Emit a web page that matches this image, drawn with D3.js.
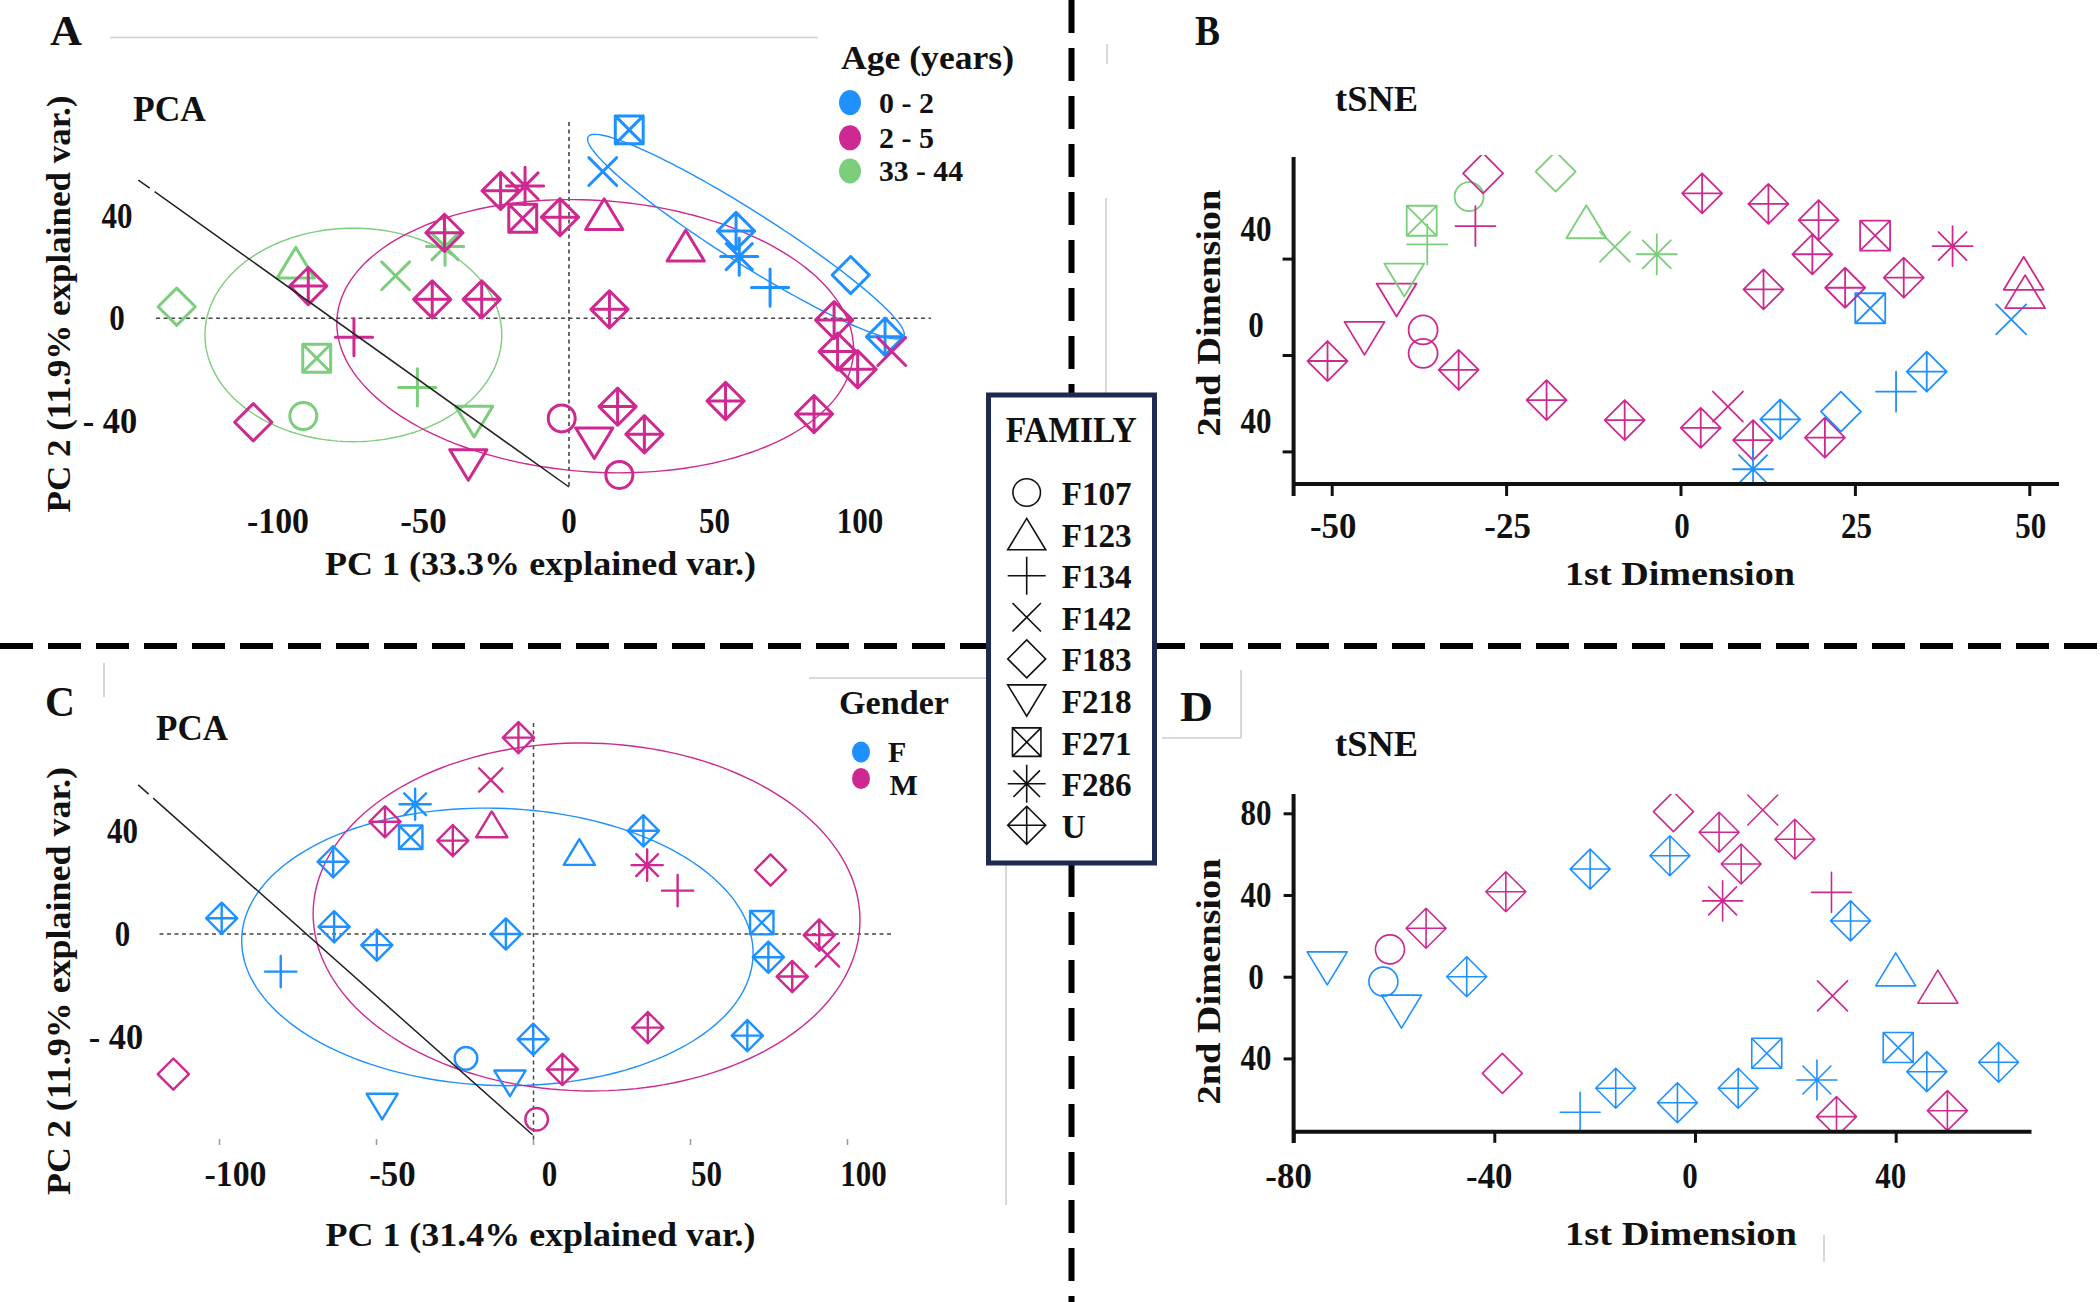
<!DOCTYPE html>
<html><head><meta charset="utf-8">
<script src="https://cdn.jsdelivr.net/npm/d3@7"></script>
<style>
body{margin:0;background:#fff}
svg{display:block}
text{font-family:"Liberation Serif","Times New Roman",serif;font-weight:bold;fill:#111}
</style>
</head><body>
<svg id="c" width="2100" height="1302"></svg>
<script>
// ---------------- DATA ----------------
const families = ["F107","F123","F134","F142","F183","F218","F271","F286","U"];
const ageGroups = ["0 - 2","2 - 5","33 - 44"];
const genders = ["F","M"];

// Panel A: PCA coloured by age  [PC1, PC2, family, age]
const pcaAgePoints = [
  [-134.8,4.5,"F183","33 - 44"],[-93.9,21.7,"F123","33 - 44"],[-89.6,12.6,"U","2 - 5"],
  [-73.9,-7.4,"F134","2 - 5"],[-86.7,-15.6,"F271","33 - 44"],[-59.6,16.6,"F142","33 - 44"],
  [-42.6,28.0,"F286","33 - 44"],[-42.8,33.4,"U","2 - 5"],[-47.0,7.4,"U","2 - 5"],
  [-30.0,7.4,"U","2 - 5"],[-52.1,-27.0,"F134","33 - 44"],[-91.3,-38.2,"F107","33 - 44"],
  [-108.5,-40.6,"F183","2 - 5"],[-32.6,-40.4,"F218","33 - 44"],[-34.6,-57.3,"F218","2 - 5"],
  [-23.5,49.8,"U","2 - 5"],[-15.1,51.7,"F286","2 - 5"],[-15.9,39.1,"F271","2 - 5"],
  [-3.1,39.5,"U","2 - 5"],[12.1,40.7,"F123","2 - 5"],[20.7,73.6,"F271","0 - 2"],
  [11.6,57.3,"F142","0 - 2"],[40.1,28.4,"F123","2 - 5"],[57.4,34.1,"U","0 - 2"],
  [58.5,24.1,"F286","0 - 2"],[69.1,12.0,"F134","0 - 2"],[96.8,16.9,"F183","0 - 2"],
  [91.1,-0.7,"U","2 - 5"],[108.6,-7.2,"U","0 - 2"],[110.9,-13.0,"F142","2 - 5"],
  [92.3,-13.0,"U","2 - 5"],[99.2,-19.9,"U","2 - 5"],[13.9,3.5,"U","2 - 5"],
  [53.8,-32.3,"U","2 - 5"],[84.2,-37.4,"U","2 - 5"],[16.7,-34.5,"U","2 - 5"],
  [25.9,-45.3,"U","2 - 5"],[-2.5,-39.1,"F107","2 - 5"],[8.7,-48.8,"F218","2 - 5"],
  [17.3,-61.2,"F107","2 - 5"]
];
// [group, centre x, centre y, semi-axis a, semi-axis b, angle(deg)]
const pcaAgeEllipses = [
  ["33 - 44",-74.1,-6.5,51,41.7,0],
  ["2 - 5",9,-7,89,53,-5],
  ["0 - 2",60.8,31.9,66.8,9.8,-35.9]
];
const pcaAgeGuide = [[-148,54],[0,-65.9]];

// Panel B: tSNE coloured by age [dim1, dim2, family, age]
const tsneAgePoints = [
  [-50.6,-2.5,"U","2 - 5"],[-45.3,6.9,"F218","2 - 5"],[-40.7,22.8,"F218","2 - 5"],
  [-39.6,31.1,"F218","33 - 44"],[-37.1,55.7,"F271","33 - 44"],[-36.3,45.9,"F134","33 - 44"],
  [-36.9,10.4,"F107","2 - 5"],[-36.9,0.7,"F107","2 - 5"],[-31.8,-6.2,"U","2 - 5"],
  [-30.3,65.7,"F107","33 - 44"],[-29.4,53.5,"F134","2 - 5"],[-28.3,75.4,"F183","2 - 5"],
  [-17.9,76.1,"F183","33 - 44"],[-13.5,55.3,"F123","33 - 44"],[-9.4,44.9,"F142","33 - 44"],
  [-3.4,41.8,"F286","33 - 44"],[-19.2,-18.7,"U","2 - 5"],[-8.0,-27.0,"U","2 - 5"],
  [2.9,-30.2,"U","2 - 5"],[6.8,-21.4,"F142","2 - 5"],[10.4,-35.3,"U","2 - 5"],
  [10.4,-47.4,"F286","0 - 2"],[14.3,-26.7,"U","0 - 2"],[20.7,-34.3,"U","2 - 5"],
  [23.0,-23.5,"F183","0 - 2"],[30.9,-15.2,"F134","0 - 2"],[35.3,-6.9,"U","0 - 2"],
  [47.4,14.8,"F142","0 - 2"],[49.2,33.9,"F123","2 - 5"],[49.4,26.3,"F123","2 - 5"],
  [27.2,19.4,"F271","0 - 2"],[39.0,45.2,"F286","2 - 5"],[27.9,49.5,"F271","2 - 5"],
  [32.0,32.1,"U","2 - 5"],[23.6,27.9,"U","2 - 5"],[18.9,41.8,"U","2 - 5"],
  [19.8,56.0,"U","2 - 5"],[12.6,62.7,"U","2 - 5"],[3.1,67.1,"U","2 - 5"],
  [11.9,27.2,"U","2 - 5"]
];

// Panel C: PCA coloured by gender [PC1, PC2, family, gender]
const pcaGenderPoints = [
  [-4.8,76.1,"U","M"],[-13.6,59.7,"F142","M"],[-37.7,50.3,"F286","F"],[-47.3,43.5,"U","M"],
  [-39.1,37.5,"F271","F"],[-25.7,36.2,"U","M"],[-13.3,42.5,"F123","M"],[-63.8,28.0,"U","F"],
  [-99.3,6.1,"U","F"],[-63.5,2.8,"U","F"],[-49.9,-4.3,"U","F"],[-80.5,-14.6,"F134","F"],
  [-8.8,0,"U","F"],[-0.1,-40.8,"U","F"],[-21.5,-48.2,"F107","F"],[-7.5,-57.9,"F218","F"],
  [-48.2,-66.9,"F218","F"],[-114.7,-54.3,"F183","M"],[1.0,-71.8,"F107","M"],[9.2,-52.5,"U","M"],
  [14.6,31.8,"F123","F"],[35.0,40.0,"U","F"],[36.2,26.7,"F286","M"],[45.9,16.8,"F134","M"],
  [36.4,-36.3,"U","M"],[68.1,-39.4,"U","F"],[75.5,24.8,"F183","M"],[72.7,4.4,"F271","F"],
  [74.8,-9.0,"U","F"],[82.4,-16.5,"U","M"],[91.0,-0.4,"U","M"],[93.6,-8.1,"F142","M"]
];
const pcaGenderEllipses = [
  ["F",-11.5,-5.0,81.5,53.7,-3],
  ["M",16.9,6.6,87.1,67.4,-2]
];
const pcaGenderGuide = [[-125.9,57.8],[-0.3,-77.8]];

// Panel D: tSNE coloured by gender [dim1, dim2, family, gender]
const tsneGenderPoints = [
  [-73.3,4.1,"F218","F"],[-60.8,13.4,"F107","M"],[-62.1,-2.4,"F107","F"],[-58.5,-17.1,"F218","F"],
  [-53.6,23.7,"U","M"],[-45.5,0,"U","F"],[-37.7,41.6,"U","M"],[-38.4,-47.3,"F183","M"],
  [-20.9,52.7,"U","F"],[-22.9,-66.4,"F134","F"],[-15.8,-54.6,"U","F"],[-4.3,80.8,"F183","M"],
  [-5.0,59.2,"U","F"],[-3.5,-61.7,"U","F"],[4.8,70.7,"U","M"],[13.5,81.6,"F142","M"],
  [9.2,55.2,"U","M"],[19.9,67.3,"U","M"],[5.5,37.1,"F286","M"],[27.2,41.3,"F134","M"],
  [31.0,27.3,"U","F"],[40.0,3.6,"F123","F"],[48.4,-4.9,"F123","M"],[27.4,-9.4,"F142","M"],
  [14.3,-37.5,"F271","F"],[8.6,-54.6,"U","F"],[24.3,-50.6,"F286","F"],[28.2,-68.5,"U","M"],
  [40.5,-34.7,"F271","F"],[46.2,-46.5,"U","F"],[50.3,-65.6,"U","M"],[60.5,-41.9,"U","F"]
];

// tick values & labels
const pcaXTicks = [-100,-50,0,50,100];
const pcaYTicks = [40,0,-40];
const pcaYLabels = ["40","0","- 40"];
const tsneAgeXTicks = [-50,-25,0,25,50];
const tsneAgeYTicks = [40,0,-40];
const tsneAgeYLabels = ["40","0","40"];
const tsneGenderXTicks = [-80,-40,0,40];
const tsneGenderYTicks = [80,40,0,-40];
const tsneGenderYLabels = ["80","40","0","40"];

// ---------------- STYLE ----------------
const colors = {"0 - 2":"#1E90FF","2 - 5":"#CD2990","33 - 44":"#7CCD7C","F":"#1E90FF","M":"#CD2990"};
const TICK = 36;

const svg = d3.select("#c");

function shape(f, k) {
  const m = v => (v*k).toFixed(2);
  switch (f) {
    case "F107": { const r = (14.5*k).toFixed(2); return `M${r},0A${r},${r} 0 1,1 ${-r},0A${r},${r} 0 1,1 ${r},0Z`; }
    case "F123": return `M0,${m(-16.5)}L${m(20)},${m(16.5)}L${m(-20)},${m(16.5)}Z`;
    case "F134": return `M${m(-20)},0H${m(20)}M0,${m(-20)}V${m(20)}`;
    case "F142": return `M${m(-15)},${m(-15)}L${m(15)},${m(15)}M${m(-15)},${m(15)}L${m(15)},${m(-15)}`;
    case "F183": return `M0,${m(-20)}L${m(20)},0L0,${m(20)}L${m(-20)},0Z`;
    case "F218": return `M${m(-20)},${m(-16.5)}L${m(20)},${m(-16.5)}L0,${m(16.5)}Z`;
    case "F271": return `M${m(-15)},${m(-15)}H${m(15)}V${m(15)}H${m(-15)}ZM${m(-15)},${m(-15)}L${m(15)},${m(15)}M${m(-15)},${m(15)}L${m(15)},${m(-15)}`;
    case "F286": return `M${m(-20)},0H${m(20)}M0,${m(-20)}V${m(20)}M${m(-14)},${m(-14)}L${m(14)},${m(14)}M${m(-14)},${m(14)}L${m(14)},${m(-14)}`;
    default: return `M0,${m(-20)}L${m(20)},0L0,${m(20)}L${m(-20)},0ZM${m(-20)},0H${m(20)}M0,${m(-20)}V${m(20)}`;
  }
}

function txt(g, x, y, s, size, o = {}) {
  const t = g.append("text").attr("x", x).attr("y", y).text(s).attr("font-size", size);
  if (o.anchor) t.attr("text-anchor", o.anchor);
  if (o.central) t.attr("dominant-baseline", "central");
  if (o.len) t.attr("textLength", o.len).attr("lengthAdjust", "spacingAndGlyphs");
  if (o.rot) t.attr("transform", `rotate(-90,${x},${y})`);
  return t;
}
// width of a tick label in the original (narrow, tall) face
const tickLen = s => s.replace(/ /g,"").length * 15.5 + (s.includes(" ") ? 8 : 0);

function drawPoints(g, data, xs, ys, k, sw) {
  g.selectAll(null).data(data).join("path")
    .attr("transform", d => `translate(${xs(d[0])},${ys(d[1])})`)
    .attr("d", d => shape(d[2], k))
    .attr("fill", "none").attr("stroke", d => colors[d[3]])
    .attr("stroke-width", sw).attr("stroke-linejoin", "round").attr("stroke-linecap", "round");
}

function drawEllipses(g, ells, xs, ys) {
  const line = d3.line().x(p => xs(p[0])).y(p => ys(p[1])).curve(d3.curveLinearClosed);
  ells.forEach(e => {
    const [grp, cx, cy, a, b, ang] = e, th = ang * Math.PI / 180;
    const pts = d3.range(0, 2*Math.PI, Math.PI/90).map(t => [
      cx + a*Math.cos(t)*Math.cos(th) - b*Math.sin(t)*Math.sin(th),
      cy + a*Math.cos(t)*Math.sin(th) + b*Math.sin(t)*Math.cos(th)]);
    g.append("path").attr("d", line(pts)).attr("fill", "none")
      .attr("stroke", colors[grp]).attr("stroke-width", 1.4);
  });
}

// ---------------- BACKGROUND ARTIFACT LINES ----------------
const grey = svg.append("g").attr("stroke", "#cfcfcf").attr("stroke-width", 1.6);
[[110,37.5,818,37.5],[1107,44,1107,64],[1106,198,1106,395],[809,678,1003,678],
 [1006,850,1006,1205],[1162,738,1241,738],[1241,670,1241,738],[104,663,104,697],[1824,1235,1824,1262]]
 .forEach(l => grey.append("line").attr("x1",l[0]).attr("y1",l[1]).attr("x2",l[2]).attr("y2",l[3]));

// dashed dividers
svg.append("line").attr("x1",1071.5).attr("y1",0).attr("x2",1071.5).attr("y2",1302)
  .attr("stroke","#000").attr("stroke-width",6).attr("stroke-dasharray","33,15");
svg.append("line").attr("x1",0).attr("y1",646).attr("x2",2100).attr("y2",646)
  .attr("stroke","#000").attr("stroke-width",6).attr("stroke-dasharray","33,15");

// ---------------- PANEL A ----------------
{
  const g = svg.append("g");
  const x = d3.scaleLinear().domain([-100,100]).range([278,860]);
  const y = d3.scaleLinear().domain([-40,40]).range([420.7,215.9]);
  txt(g, 50, 45, "A", 42, {len: 32});
  txt(g, 133, 121, "PCA", 36, {len: 73});
  g.append("line").attr("x1",x(-141.9)).attr("x2",x(124.4)).attr("y1",y(0)).attr("y2",y(0))
    .attr("stroke","#444").attr("stroke-width",1.6).attr("stroke-dasharray","4,3.5");
  g.append("line").attr("x1",x(0)).attr("x2",x(0)).attr("y1",y(76.7)).attr("y2",y(-66.3))
    .attr("stroke","#444").attr("stroke-width",1.6).attr("stroke-dasharray","4,3.5");
  drawEllipses(g, pcaAgeEllipses, x, y);
  drawPoints(g, pcaAgePoints, x, y, 0.93, 3);
  g.append("line").attr("x1",x(pcaAgeGuide[0][0])).attr("y1",y(pcaAgeGuide[0][1]))
    .attr("x2",x(pcaAgeGuide[1][0])).attr("y2",y(pcaAgeGuide[1][1]))
    .attr("stroke","#222").attr("stroke-width",1.5).attr("stroke-dasharray","14,6,2000");
  pcaXTicks.forEach(v => txt(g, x(v), 520.5, String(v), TICK, {anchor:"middle", central:true, len: tickLen(String(v))}));
  pcaYTicks.forEach((v,i) => txt(g, i===2 ? 110 : 117, y(v), pcaYLabels[i], TICK, {anchor:"middle", central:true, len: tickLen(pcaYLabels[i])}));
  txt(g, 540.5, 575, "PC 1 (33.3% explained var.)", 34, {anchor:"middle", len: 431});
  txt(g, 69.5, 304, "PC 2 (11.9% explained var.)", 34, {anchor:"middle", len: 417, rot:true});
  txt(g, 841, 69, "Age (years)", 34, {len: 173});
  const ly = [102.6,137.8,171], lw = [55,55,84];
  ageGroups.forEach((a,i) => {
    g.append("ellipse").attr("cx",850).attr("cy",ly[i]).attr("rx",11).attr("ry",12.5).attr("fill",colors[a]);
    txt(g, 879, ly[i], a, 29, {central:true, len: lw[i]});
  });
}

// ---------------- PANEL B ----------------
{
  const g = svg.append("g");
  const x = d3.scaleLinear().domain([-50,50]).range([1331.7,2029.3]);
  const y = d3.scaleLinear().domain([-40,40]).range([451.4,258.6]);
  txt(g, 1195, 45, "B", 42, {len: 25});
  txt(g, 1335, 111, "tSNE", 36, {len: 83});
  svg.append("clipPath").attr("id","clipB").append("rect").attr("x",1294).attr("y",155).attr("width",800).attr("height",329);
  const pg = g.append("g").attr("clip-path","url(#clipB)");
  drawPoints(pg, tsneAgePoints, x, y, 1, 1.8);
  g.append("line").attr("x1",1293.6).attr("x2",2059).attr("y1",484).attr("y2",484).attr("stroke","#111").attr("stroke-width",4);
  g.append("line").attr("x1",1293.6).attr("x2",1293.6).attr("y1",157).attr("y2",496).attr("stroke","#111").attr("stroke-width",4);
  const ax = g.append("g").attr("transform","translate(0,484)")
    .call(d3.axisBottom(x).tickValues(tsneAgeXTicks).tickSize(12).tickSizeOuter(0).tickFormat(""));
  const ay = g.append("g").attr("transform","translate(1293.6,0)")
    .call(d3.axisLeft(y).tickValues(tsneAgeYTicks).tickSize(11).tickSizeOuter(0).tickFormat(""));
  [ax, ay].forEach(a => { a.select(".domain").remove(); a.selectAll("line").attr("stroke","#111").attr("stroke-width",3); });
  tsneAgeXTicks.forEach(v => txt(g, x(v)+1.5, 526, String(v), TICK, {anchor:"middle", central:true, len: tickLen(String(v))}));
  tsneAgeYTicks.forEach((v,i) => txt(g, 1256, y(v) - 30, tsneAgeYLabels[i], TICK, {anchor:"middle", central:true, len: tickLen(tsneAgeYLabels[i])}));
  txt(g, 1680, 585, "1st Dimension", 34, {anchor:"middle", len: 230});
  txt(g, 1220, 313, "2nd Dimension", 34, {anchor:"middle", len: 247, rot:true});
}

// ---------------- PANEL C ----------------
{
  const g = svg.append("g");
  const x = d3.scaleLinear().domain([-100,100]).range([219.5,847.5]);
  const y = d3.scaleLinear().domain([-40,40]).range([1037.2,830.8]);
  txt(g, 45, 716, "C", 42, {len: 30});
  txt(g, 156, 740, "PCA", 36, {len: 72});
  g.append("line").attr("x1",x(-119.1)).attr("x2",x(114.5)).attr("y1",y(0)).attr("y2",y(0))
    .attr("stroke","#444").attr("stroke-width",1.5).attr("stroke-dasharray","4,3.5");
  g.append("line").attr("x1",x(0)).attr("x2",x(0)).attr("y1",y(81.8)).attr("y2",y(-81.0))
    .attr("stroke","#444").attr("stroke-width",1.5).attr("stroke-dasharray","4,3.5");
  pcaXTicks.forEach(v => g.append("line").attr("x1",x(v)).attr("x2",x(v)).attr("y1",1139).attr("y2",1145).attr("stroke","#999").attr("stroke-width",1.5));
  drawEllipses(g, pcaGenderEllipses, x, y);
  drawPoints(g, pcaGenderPoints, x, y, 0.78, 2.4);
  g.append("line").attr("x1",x(pcaGenderGuide[0][0])).attr("y1",y(pcaGenderGuide[0][1]))
    .attr("x2",x(pcaGenderGuide[1][0])).attr("y2",y(pcaGenderGuide[1][1]))
    .attr("stroke","#222").attr("stroke-width",1.5).attr("stroke-dasharray","14,6,2000");
  pcaXTicks.forEach(v => txt(g, x(v)+16, 1174, String(v), TICK, {anchor:"middle", central:true, len: tickLen(String(v))}));
  pcaYTicks.forEach((v,i) => txt(g, i===2 ? 116 : 122.5, y(v), pcaYLabels[i], TICK, {anchor:"middle", central:true, len: tickLen(pcaYLabels[i])}));
  txt(g, 540.5, 1246, "PC 1 (31.4% explained var.)", 34, {anchor:"middle", len: 430});
  txt(g, 69.5, 981, "PC 2 (11.9% explained var.)", 34, {anchor:"middle", len: 428, rot:true});
  txt(g, 839, 714, "Gender", 33, {len: 110});
  const gy = [752,778.5], ty = [762,795], tx = [888,889.5];
  genders.forEach((s,i) => {
    g.append("ellipse").attr("cx",861).attr("cy",gy[i]).attr("rx",9).attr("ry",10.5).attr("fill",colors[s]);
    txt(g, tx[i], ty[i], s, 30);
  });
}

// ---------------- PANEL D ----------------
{
  const g = svg.append("g");
  const x = d3.scaleLinear().domain([-80,40]).range([1293.6,1895.7]);
  const y = d3.scaleLinear().domain([-40,80]).range([1058.4,813.3]);
  txt(g, 1180, 721, "D", 42, {len: 33});
  txt(g, 1335, 756, "tSNE", 36, {len: 83});
  svg.append("clipPath").attr("id","clipD").append("rect").attr("x",1294).attr("y",794).attr("width",800).attr("height",338);
  const pg = g.append("g").attr("clip-path","url(#clipD)");
  drawPoints(pg, tsneGenderPoints, x, y, 1, 1.6);
  g.append("line").attr("x1",1293.6).attr("x2",2031.5).attr("y1",1131.8).attr("y2",1131.8).attr("stroke","#111").attr("stroke-width",4);
  g.append("line").attr("x1",1293.6).attr("x2",1293.6).attr("y1",794).attr("y2",1143).attr("stroke","#111").attr("stroke-width",4);
  const ax = g.append("g").attr("transform","translate(0,1131.8)")
    .call(d3.axisBottom(x).tickValues(tsneGenderXTicks).tickSize(11).tickSizeOuter(0).tickFormat(""));
  const ay = g.append("g").attr("transform","translate(1293.6,0)")
    .call(d3.axisLeft(y).tickValues(tsneGenderYTicks).tickSize(10).tickSizeOuter(0).tickFormat(""));
  [ax, ay].forEach(a => { a.select(".domain").remove(); a.selectAll("line").attr("stroke","#111").attr("stroke-width",3); });
  tsneGenderXTicks.forEach(v => txt(g, x(v)-5, 1176, String(v), TICK, {anchor:"middle", central:true, len: tickLen(String(v))}));
  tsneGenderYTicks.forEach((v,i) => txt(g, 1256, y(v), tsneGenderYLabels[i], TICK, {anchor:"middle", central:true, len: tickLen(tsneGenderYLabels[i])}));
  txt(g, 1681, 1245, "1st Dimension", 34, {anchor:"middle", len: 232});
  txt(g, 1220, 981.5, "2nd Dimension", 34, {anchor:"middle", len: 246, rot:true});
}

// ---------------- FAMILY LEGEND ----------------
{
  const g = svg.append("g");
  g.append("rect").attr("x",988.5).attr("y",395).attr("width",166).attr("height",468)
    .attr("fill","#fff").attr("stroke","#1c2b4f").attr("stroke-width",5);
  txt(g, 1071.3, 442, "FAMILY", 35, {anchor:"middle", len: 131});
  const rowY = d3.scaleLinear().domain([0, families.length-1]).range([492.5, 825.3]);
  families.forEach((f,i) => {
    g.append("path").attr("transform",`translate(1026.7,${rowY(i)})`).attr("d", shape(f, 0.95))
      .attr("fill","none").attr("stroke","#111").attr("stroke-width",1.6);
    txt(g, 1061.7, rowY(i) + 1, f, 34, {central:true, len: f.length === 1 ? 24 : 70});
  });
}
</script>
</body></html>
